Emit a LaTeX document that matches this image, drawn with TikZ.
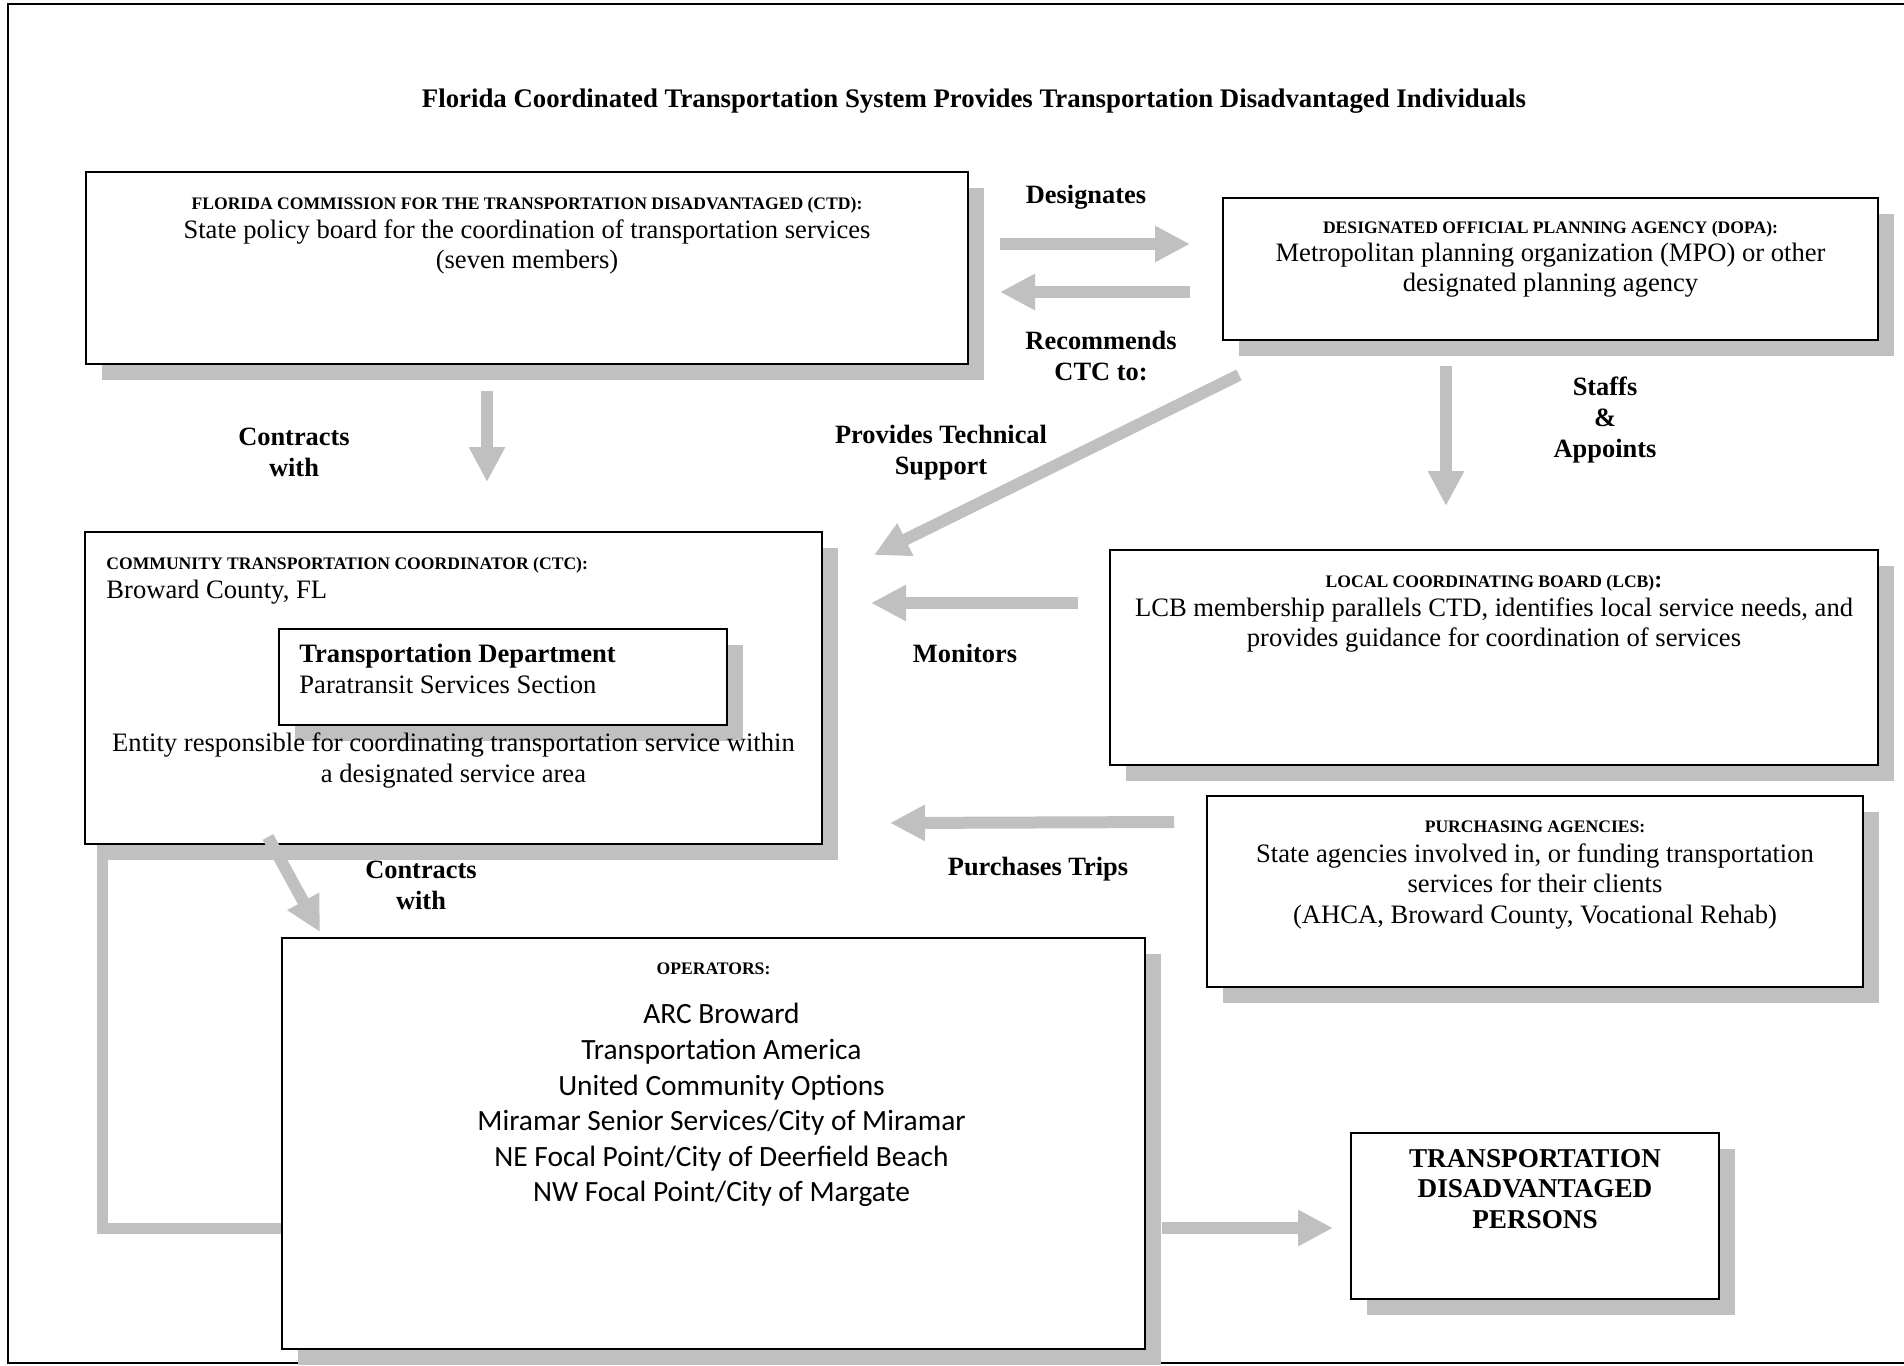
\documentclass[tikz,border=0pt]{standalone}
\usepackage{fontspec}
\setmainfont{Liberation Serif}
\newfontfamily\opfont{Carlito}
\usetikzlibrary{arrows.meta,positioning,shadows}
\definecolor{shade}{RGB}{192,192,192}

\begin{document}
\begin{tikzpicture}[
    x=0.5pt, y=-0.5pt,
    every node/.style={inner sep=0pt},
    box/.style={draw, line width=1pt, fill=white, anchor=north west,
        general shadow={fill=shade, shadow xshift=8pt, shadow yshift=-8pt}},
    head/.style={font=\fontsize{8.8}{10}\selectfont\bfseries, align=center},
    body/.style={font=\fontsize{13.3}{15.25}\selectfont, align=center},
    tag/.style={font=\fontsize{13.2}{15.5}\selectfont\bfseries, align=center},
    flow/.style={draw=shade, line width=6pt, -{Triangle[length=17.5pt, width=17pt]}},
    link/.style={draw=shade, line width=5.5pt},
]
    \useasboundingbox (0,0) rectangle (1904,1365);

    % Frame
    \draw[line width=1pt] (1904,4) -- (8,4) -- (8,1363) -- (1904,1363);

    % Title
    \node[font=\fontsize{13.4}{15}\selectfont\bfseries] (title) at (974,101)
        {Florida Coordinated Transportation System Provides Transportation Disadvantaged Individuals};

    % State level
    \node[box, minimum width=441pt, minimum height=96pt] (ctd) at (85,171) {};
    \node[head, below=12.7pt of ctd.north] (ctdhead) {FLORIDA COMMISSION FOR THE TRANSPORTATION DISADVANTAGED (CTD):};
    \node[body, below=24pt of ctd.north] (ctdbody) {State policy board for the coordination of transportation services\\(seven members)};

    \node[box, minimum width=327.5pt, minimum height=71pt] (dopa) at (1222,197) {};
    \node[head, below=12pt of dopa.north] (dopahead) {DESIGNATED OFFICIAL PLANNING AGENCY (DOPA):};
    \node[body, below=22.8pt of dopa.north] (dopabody) {Metropolitan planning organization (MPO) or other\\designated planning agency};

    % Local level
    \node[box, minimum width=368.5pt, minimum height=156pt] (ctc) at (84,531) {};
    \node[head, align=left, below right=12.7pt and 11pt of ctc.north west] (ctchead) {COMMUNITY TRANSPORTATION COORDINATOR (CTC):};
    \node[body, align=left, below right=24.5pt and 11pt of ctc.north west] (ctcbody) {Broward County, FL};
    \node[box, minimum width=224pt, minimum height=48pt] (dept) at (278,628) {};
    \node[body, align=left, below right=8pt and 10.5pt of dept.north west] (depttext) {\textbf{Transportation Department}\\Paratransit Services Section};
    \node[body, below=100.8pt of ctc.north] (ctcrole) {Entity responsible for coordinating transportation service within\\a designated service area};

    \node[box, minimum width=384pt, minimum height=107.5pt] (lcb) at (1109,549) {};
    \node[head, below=12.7pt of lcb.north] (lcbhead) {LOCAL COORDINATING BOARD (LCB){\fontsize{12}{12}\selectfont:}};
    \node[body, below=24pt of lcb.north] (lcbbody) {LCB membership parallels CTD, identifies local service needs, and\\provides guidance for coordination of services};

    \node[box, minimum width=328pt, minimum height=95.5pt] (purch) at (1206,795) {};
    \node[head, below=12.7pt of purch.north] (purchhead) {PURCHASING AGENCIES:};
    \node[body, below=24pt of purch.north] (purchbody) {State agencies involved in, or funding transportation\\services for their clients\\(AHCA, Broward County, Vocational Rehab)};

    % Service level
    \node[box, minimum width=431.5pt, minimum height=205.5pt] (oper) at (281,937) {};
    \node[head, below=12.7pt of oper.north] (operhead) {OPERATORS:};
    \node[font=\opfont\fontsize{14.7}{17.8}\selectfont, align=center, below=33pt of oper.north, xshift=4pt] (operlist)
        {ARC Broward\\Transportation America\\United Community Options\\Miramar Senior Services/City of Miramar\\NE Focal Point/City of Deerfield Beach\\NW Focal Point/City of Margate};

    \node[box, minimum width=184pt, minimum height=83pt] (tdp) at (1350,1132) {};
    \node[font=\fontsize{13.6}{15.25}\selectfont\bfseries, align=center, below=8.5pt of tdp.north] (tdptext)
        {TRANSPORTATION\\DISADVANTAGED\\PERSONS};

    % Labels
    \node[tag] (designates) at (1086,197) {Designates};
    \node[tag] (recommends) at (1101,356) {Recommends\\CTC to:};
    \node[tag] (contracts) at (294,452) {Contracts\\with};
    \node[tag] (techsupport) at (941,453) {Provides Technical\\Support};
    \node[tag] (staffs) at (1605,420) {Staffs\\\&\\Appoints};
    \node[tag] (monitors) at (965,653) {Monitors};
    \node[tag] (purchases) at (1038,869) {Purchases Trips};
    \node[tag] (contractsop) at (421,885) {Contracts\\with};

    % Flows
    \draw[flow] ([shift={(31,-24)}]ctd.east) -- ([shift={(-32,-25)}]dopa.west);
    \draw[flow] ([shift={(-32,23)}]dopa.west) -- ([shift={(31,24)}]ctd.east);
    \draw[flow] ([shift={(-40,26)}]ctd.south) -- ([shift={(33.5,-49)}]ctc.north);
    \draw[flow] ([shift={(17,34)}]dopa.south west) -- ([shift={(51,24)}]ctc.north east);
    \draw[flow] ([shift={(-104.5,25)}]dopa.south) -- ([shift={(-48,-43)}]lcb.north);
    \draw[flow] ([shift={(-31,-54.5)}]lcb.west) -- ([shift={(48,-85)}]ctc.east);
    \draw[flow] ([shift={(-32,-69.5)}]purch.west) -- ([shift={(67,-22)}]ctc.south east);
    \draw[flow] ([shift={(184,-8)}]ctc.south west) -- ([shift={(39,-5)}]oper.north west);
    \draw[flow] ([shift={(16,84.5)}]oper.east) -- ([shift={(-17,12)}]tdp.west);
    \draw[link] ([shift={(18,0)}]ctc.south west) |- ([shift={(0,84.5)}]oper.west);
\end{tikzpicture}
\end{document}
